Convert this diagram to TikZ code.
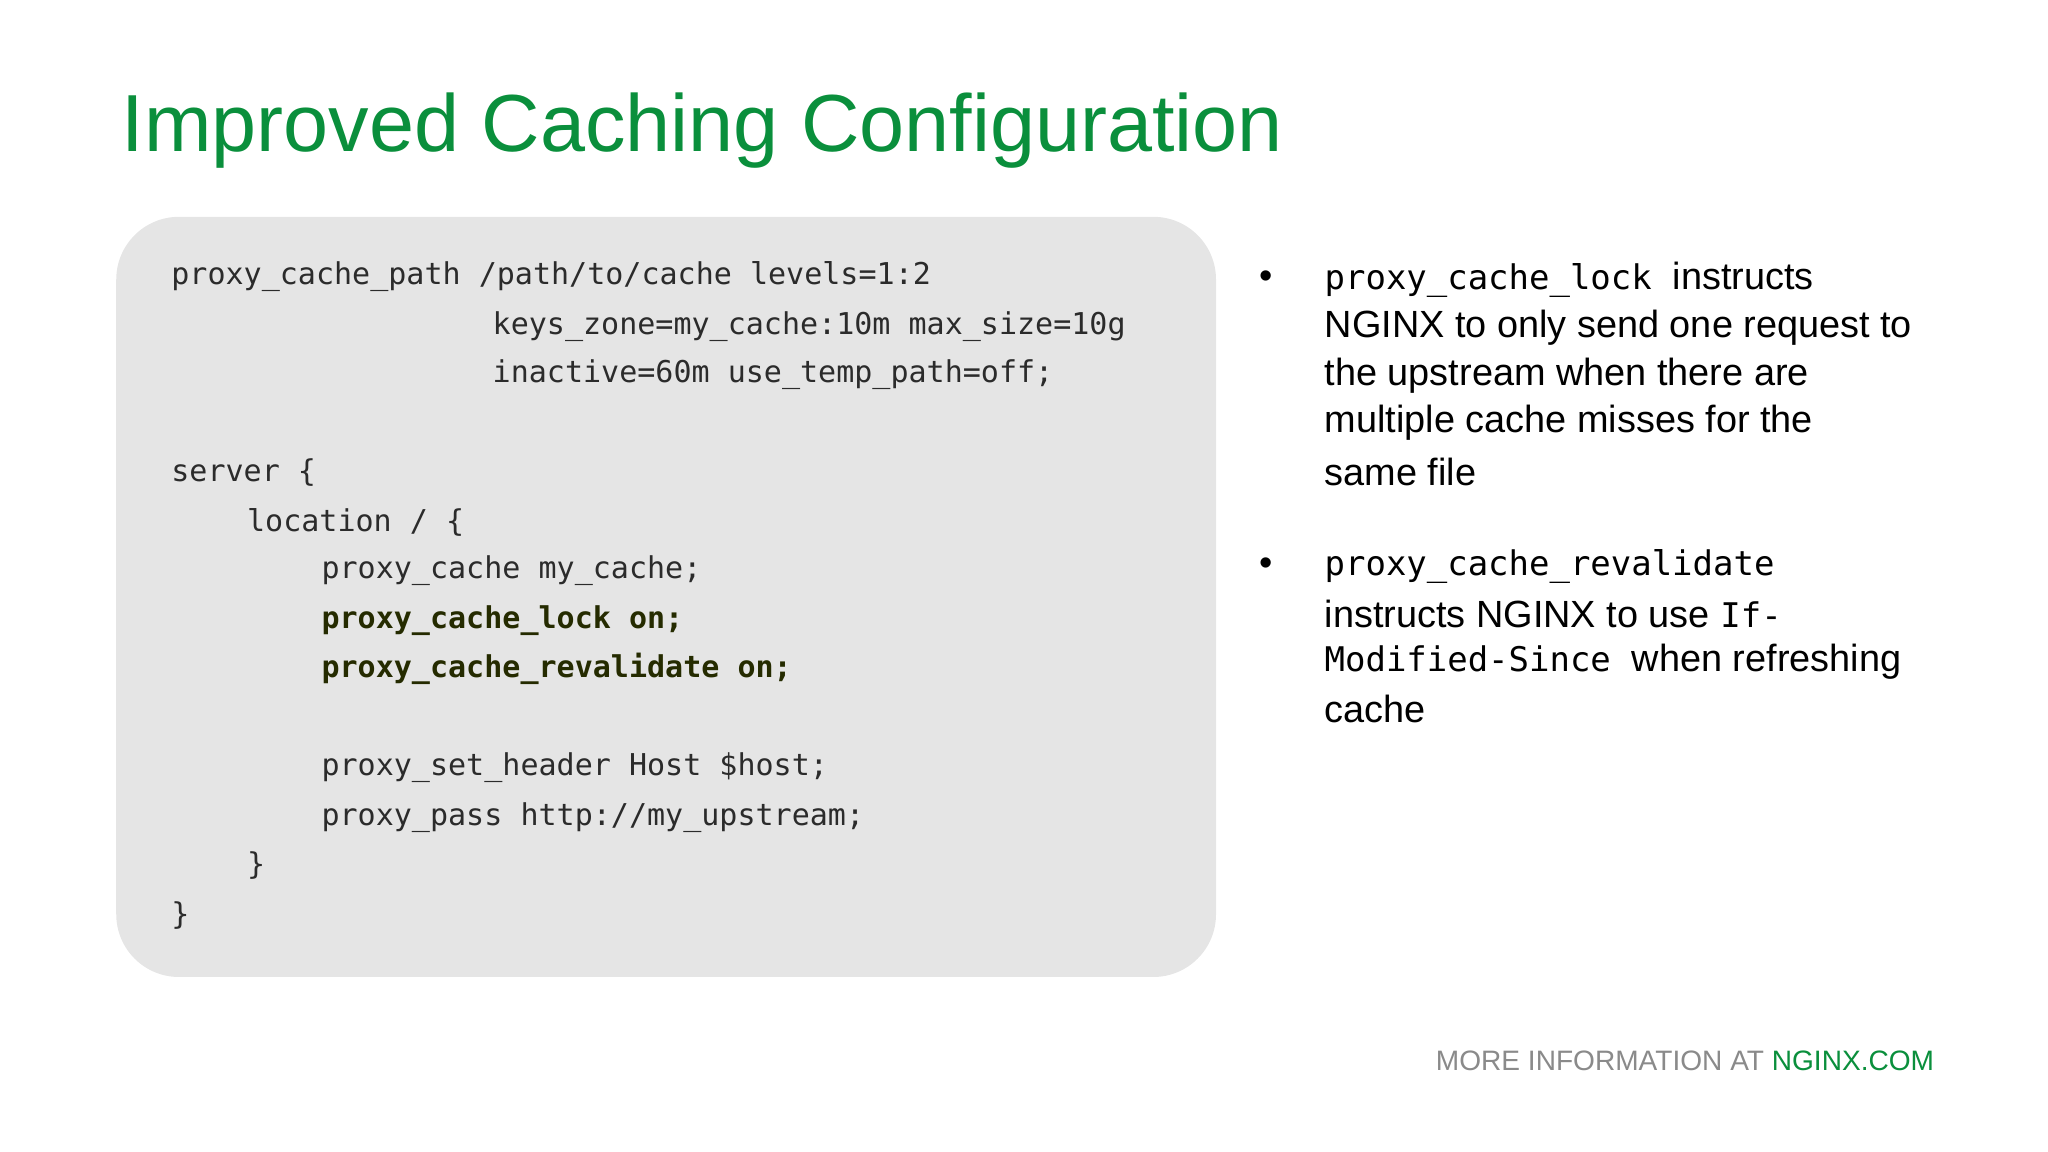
\documentclass[tikz,border=0pt]{standalone}
\usepackage{fontspec}
\setmainfont{Liberation Sans}
\newfontfamily\codefont{DejaVu Sans Mono}
\definecolor{ngreen}{HTML}{0A8F3C}
\definecolor{boxgray}{HTML}{E5E5E5}
\definecolor{codec}{HTML}{2B2B2B}
\definecolor{boldc}{HTML}{252B00}
\definecolor{footgray}{HTML}{8A8A8A}
\begin{document}
\begin{tikzpicture}[x=1pt,y=-1pt,
  code/.style={anchor=west,inner sep=0,text=codec,font=\codefont\fontsize{23}{28}\selectfont},
  bcode/.style={code,text=boldc,font=\codefont\bfseries\fontsize{23}{28}\selectfont},
  body/.style={anchor=west,inner sep=0,font=\fontsize{29}{36}\selectfont},
  mono/.style={font=\codefont\fontsize{26}{30}\selectfont}]
\useasboundingbox (0,0) rectangle (1568,882);
\node[anchor=west,inner sep=0,text=ngreen,font=\fontsize{62}{70}\selectfont] (title) at (93,100) {Improved Caching Configuration};
\fill[boxgray,rounded corners=48] (89,166) rectangle (931,748);
\node[code] (c1) at (131,212) {proxy\_cache\_path /path/to/cache levels=1:2};
\node[code] (c2) at (377,250) {keys\_zone=my\_cache:10m max\_size=10g};
\node[code] (c3) at (377,287) {inactive=60m use\_temp\_path=off;};
\node[code] (c4) at (131,362) {server \{};
\node[code] (c5) at (189,400) {location / \{};
\node[code] (c6) at (246,437) {proxy\_cache my\_cache;};
\node[bcode] (c7) at (246,475) {proxy\_cache\_lock on;};
\node[bcode] (c8) at (246,512) {proxy\_cache\_revalidate on;};
\node[code] (c9) at (246,588) {proxy\_set\_header Host \$host;};
\node[code] (c10) at (246,626) {proxy\_pass http://my\_upstream;};
\node[code] (c11) at (189,663) {\}};
\node[code] (c12) at (131,701) {\}};
\node[body] (b1) at (964,214) {•};
\node[body] (l1) at (1014,214) {{\codefont\fontsize{26}{30}\selectfont proxy\_cache\_lock} \ instructs};
\node[body] (l2) at (1014,251) {NGINX to only send one request to};
\node[body] (l3) at (1014,288) {the upstream when there are};
\node[body] (l4) at (1014,324) {multiple cache misses for the};
\node[body] (l5) at (1014,361) {same file};
\node[body] (b2) at (964,434) {•};
\node[body] (m1) at (1014,434) {{\codefont\fontsize{26}{30}\selectfont proxy\_cache\_revalidate}};
\node[body] (m2) at (1014,470) {instructs NGINX to use {\codefont\fontsize{26}{30}\selectfont If-}};
\node[body] (m3) at (1014,507) {{\codefont\fontsize{26}{30}\selectfont Modified-Since} \ when refreshing};
\node[body] (m4) at (1014,543) {cache};
\node[anchor=east,inner sep=0,font=\fontsize{21.5}{26}\selectfont] (foot) at (1481,812) {\textcolor{footgray}{MORE INFORMATION AT }\textcolor{ngreen}{NGINX.COM}};
\end{tikzpicture}
\end{document}
